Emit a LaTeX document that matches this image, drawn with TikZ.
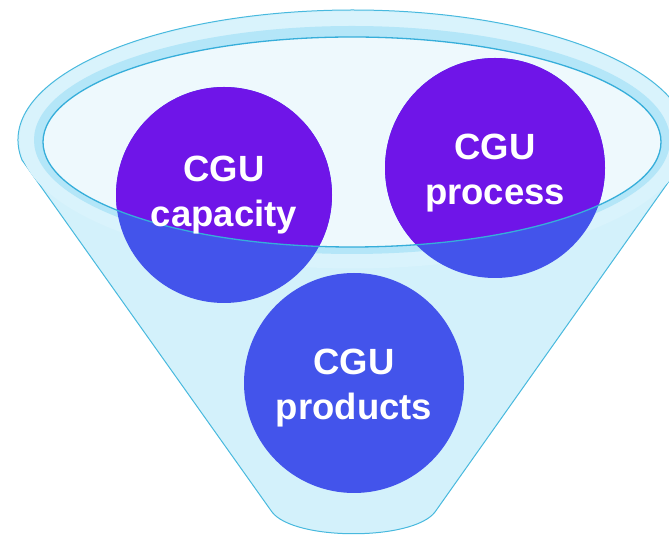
\documentclass[tikz,border=0pt]{standalone}
\usepackage{fontspec}
\setmainfont{Liberation Sans}
\definecolor{funnelbody}{HTML}{D3F1FB}
\definecolor{funnelrim}{HTML}{D9F3FC}
\definecolor{rimband}{HTML}{B4E6F8}
\definecolor{funneltop}{HTML}{EEF9FD}
\definecolor{funneledge}{HTML}{48B9DE}
\definecolor{rimedge}{HTML}{36AEDA}
\definecolor{ballblue}{HTML}{4354EB}
\definecolor{ballpurple}{HTML}{6F15E8}

\begin{document}
\begin{tikzpicture}[
        x=1pt, y=1pt,
        ball/.style={
            circle,
            fill=ballblue,
            inner sep=0pt,
            minimum size=220pt
        },
        balltext/.style={
            text=white,
            align=center,
            font=\fontsize{36.5}{45}\selectfont\bfseries
        }
    ]
    \useasboundingbox (0,0) rectangle (669,535);
    \clip (0,0) rectangle (669,535);
    % funnel body, then the rim on top of it
    \draw[funneledge, fill=funnelbody, line width=1pt]
        (22,375) arc[start angle=188.85, end angle=-8.85, x radius=335, y radius=130]
        -- (435,23) .. controls (413,-6) and (294,-6) .. (272,23) -- cycle;
    \fill[funnelrim] (353,395) ellipse[x radius=333.5, y radius=128.5];
    \fill[rimband] (352,395) ellipse[x radius=318, y radius=114];
    \coordinate (mouth) at (352,393);
    \fill[funneltop] (mouth) ellipse[x radius=309, y radius=105];
    % the three balls
    \node[ball, minimum size=216pt] (cap) at (224,340) {};
    \node[ball] (proc) at (495,367) {};
    \node[ball] (prod) at (354,152) {};
    \begin{scope}
        \clip (mouth) ellipse[x radius=309, y radius=105];
        \fill[ballpurple] (cap.center) circle[radius=108];
        \fill[ballpurple] (proc.center) circle[radius=110];
    \end{scope}
    \draw[rimedge, line width=1.3pt] (mouth) ellipse[x radius=309, y radius=105];
    \node[balltext] (capText) at (cap) {CGU\\capacity};
    \node[balltext, yshift=-5pt] (procText) at (proc) {CGU\\process};
    \node[balltext, yshift=-5pt] (prodText) at (prod) {CGU\\products};
\end{tikzpicture}
\end{document}
